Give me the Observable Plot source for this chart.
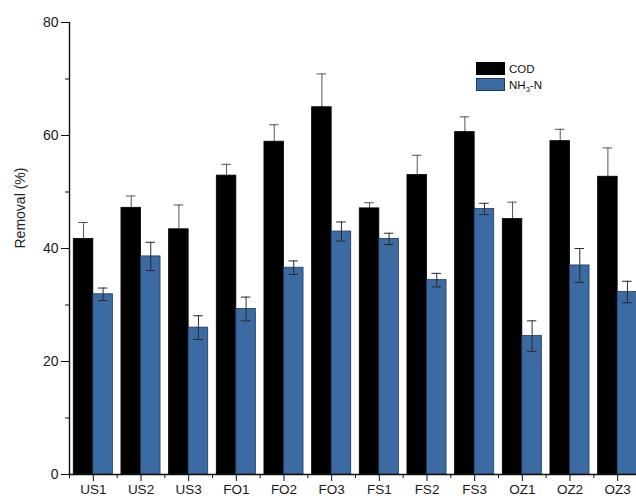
<!DOCTYPE html>
<html>
<head>
<meta charset="utf-8">
<script src="https://cdn.jsdelivr.net/npm/d3@7"></script>
<script src="https://cdn.jsdelivr.net/npm/@observablehq/plot@0.6"></script>
<style>
  html, body { margin: 0; padding: 0; background: #fff; }
  #chart { position: relative; width: 636px; height: 502px; overflow: hidden; font-family: "Liberation Sans", Arial, sans-serif; }
  #legend { position: absolute; left: 476px; top: 61px; font-size: 11.5px; color: #111; line-height: 14px; }
  #legend .row { display: flex; align-items: center; height: 15px; margin-bottom: 1px; }
  #legend .sw { width: 29px; height: 13px; margin-right: 4px; box-sizing: border-box; }
  #legend sub { font-size: 7.5px; vertical-align: -3px; line-height: 0; }
</style>
</head>
<body>
<div id="chart">
  <div id="legend">
    <div class="row"><div class="sw" style="background:#000;border:1px solid #000"></div><span>COD</span></div>
    <div class="row"><div class="sw" style="background:#3b6ba2;border:1px solid #1d3a5e"></div><span>NH<sub>3</sub>-N</span></div>
  </div>
</div>
<script>
// Treatment groups along the x axis
const categories = ["US1", "US2", "US3", "FO1", "FO2", "FO3", "FS1", "FS2", "FS3", "OZ1", "OZ2", "OZ3"];
// COD removal (%) and its standard deviation
const cod    = [41.7, 47.2, 43.4, 52.9, 58.9, 65.0, 47.1, 53.0, 60.6, 45.2, 59.0, 52.7];
const codErr = [2.9, 2.1, 4.3, 2.0, 3.0, 5.9, 1.0, 3.5, 2.7, 3.0, 2.1, 5.1];
// NH3-N removal (%) and its standard deviation
const nh3    = [31.9, 38.6, 26.0, 29.3, 36.6, 43.0, 41.7, 34.4, 47.0, 24.5, 37.0, 32.3];
const nh3Err = [1.1, 2.5, 2.1, 2.1, 1.2, 1.7, 1.0, 1.2, 1.0, 2.7, 3.0, 1.9];
const series = ["COD", "NH3-N"];
const yTicks = [0, 20, 40, 60, 80];
const yMinor = [10, 30, 50, 70];

const colors = {"COD": "#000000", "NH3-N": "#3b6ba2"};
const outlines = {"COD": "#000000", "NH3-N": "#1d3a5e"};

// one row per bar
const rows = categories.flatMap((c, i) => [
  {cat: c, i, series: series[0], value: cod[i], err: codErr[i]},
  {cat: c, i, series: series[1], value: nh3[i], err: nh3Err[i]}
]);
const codRows = rows.filter(d => d.series === "COD");
const nh3Rows = rows.filter(d => d.series === "NH3-N");

// bars fill 41% of the band each, COD left of the group centre, NH3-N right
const bw = 0.41;
const left = d => d.series === "COD" ? d.i - bw : d.i;
const right = d => d.series === "COD" ? d.i : d.i + bw;
const mid = d => (left(d) + right(d)) / 2;
const cap = 0.1;

// whiskers with caps at both ends
const errorBars = (data, stroke) => [
  Plot.ruleX(data, {x: mid, y1: d => d.value - d.err, y2: d => d.value + d.err, stroke, strokeWidth: 1}),
  Plot.ruleY(data, {x1: d => mid(d) - cap, x2: d => mid(d) + cap, y: d => d.value + d.err, stroke, strokeWidth: 1}),
  Plot.ruleY(data, {x1: d => mid(d) - cap, x2: d => mid(d) + cap, y: d => d.value - d.err, stroke, strokeWidth: 1})
];

const plot = Plot.plot({
  width: 636,
  height: 502,
  marginLeft: 69,
  marginRight: 0,
  marginTop: 22,
  marginBottom: 28,
  style: {fontFamily: "Liberation Sans, Arial, sans-serif", color: "#1a1a1a", background: "#fff"},
  x: {type: "linear", domain: [-0.5, categories.length - 0.5], range: [69, 641]},
  y: {domain: [0, 80]},
  marks: [
    // COD whiskers sit behind the black bars, so only the upper half shows
    ...errorBars(codRows, "#555"),
    Plot.rectY(rows, {
      x1: left, x2: right, y: "value",
      fill: d => colors[d.series], stroke: d => outlines[d.series], strokeWidth: 0.8
    }),
    ...errorBars(nh3Rows, "#2a2a2a"),
    // axes
    Plot.axisY({ticks: yTicks, tickSize: 8, tickPadding: 3, fontSize: 14, label: null, stroke: "#111"}),
    Plot.axisY({ticks: yMinor, tickSize: 4, tickFormat: () => "", label: null, stroke: "#111"}),
    Plot.axisX({ticks: d3.range(categories.length), tickFormat: i => categories[i], tickSize: 7, tickPadding: 3, fontSize: 13.5, label: null, stroke: "#111"}),
    Plot.axisX({ticks: d3.range(categories.length + 1).map(k => k - 0.5), tickSize: 4, tickFormat: () => "", label: null, stroke: "#111"}),
    Plot.ruleX([-0.5], {stroke: "#111", strokeWidth: 1.4}),
    Plot.ruleY([0], {stroke: "#111", strokeWidth: 1.4}),
    Plot.text(["Removal (%)"], {frameAnchor: "left", rotate: -90, dx: -49, fontSize: 14, fill: "#222"})
  ]
});
document.getElementById("chart").prepend(plot);
</script>
</body>
</html>
